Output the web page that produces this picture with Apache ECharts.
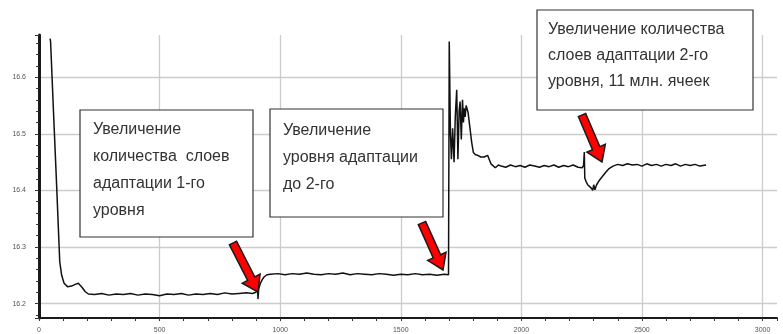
<!DOCTYPE html>
<html>
<head>
<meta charset="utf-8">
<script src="https://cdn.jsdelivr.net/npm/echarts@6/dist/echarts.min.js"></script>
<style>
  html, body { margin: 0; padding: 0; background: #fff; }
  #chart { width: 783px; height: 334px; }
</style>
</head>
<body>
<div id="chart"></div>
<script>
// Iteration number and monitored value, grouped by mesh-adaptation stage
const stage1X = [46, 48, 60, 72, 86, 94, 104, 118, 135, 150, 163, 178, 192, 205, 230, 260, 290, 320, 350, 380, 410, 440, 470, 500, 530, 560, 590, 620, 650, 680, 710, 740, 770, 800, 830, 860, 885, 900];
const stage1Y = [16.668, 16.663, 16.54, 16.42, 16.274, 16.25, 16.236, 16.230, 16.231, 16.234, 16.236, 16.229, 16.221, 16.217, 16.216, 16.218, 16.215, 16.217, 16.216, 16.218, 16.215, 16.217, 16.216, 16.214, 16.217, 16.216, 16.218, 16.215, 16.217, 16.216, 16.218, 16.216, 16.219, 16.217, 16.218, 16.219, 16.218, 16.220];

const stage2X = [904, 906, 908, 911, 918, 925, 933, 945, 960, 990, 1020, 1050, 1080, 1110, 1140, 1170, 1200, 1230, 1260, 1290, 1320, 1350, 1380, 1410, 1440, 1470, 1500, 1530, 1560, 1590, 1620, 1650, 1680, 1698];
const stage2Y = [16.222, 16.233, 16.208, 16.226, 16.236, 16.242, 16.247, 16.251, 16.252, 16.253, 16.251, 16.253, 16.252, 16.254, 16.252, 16.251, 16.253, 16.252, 16.254, 16.251, 16.253, 16.252, 16.251, 16.253, 16.252, 16.250, 16.252, 16.251, 16.253, 16.251, 16.252, 16.250, 16.252, 16.251];

const stage3X = [1701, 1703, 1706, 1710, 1715, 1721, 1726, 1732, 1737, 1742, 1746, 1751, 1756, 1760, 1763, 1767, 1771, 1779, 1787, 1794, 1801, 1810, 1819, 1832, 1846, 1860, 1874, 1892, 1905, 1916, 1935, 1955, 1975, 1995, 2015, 2035, 2055, 2075, 2095, 2115, 2135, 2155, 2175, 2195, 2215, 2235, 2252, 2258];
const stage3Y = [16.663, 16.60, 16.50, 16.455, 16.51, 16.45, 16.53, 16.578, 16.455, 16.54, 16.557, 16.49, 16.56, 16.52, 16.545, 16.53, 16.55, 16.538, 16.51, 16.485, 16.467, 16.463, 16.462, 16.459, 16.459, 16.462, 16.447, 16.44, 16.445, 16.443, 16.441, 16.445, 16.442, 16.444, 16.441, 16.445, 16.443, 16.441, 16.444, 16.442, 16.445, 16.441, 16.444, 16.442, 16.445, 16.441, 16.440, 16.444];

const stage4X = [2261, 2263, 2268, 2275, 2282, 2290, 2296, 2300, 2305, 2312, 2322, 2335, 2350, 2362, 2380, 2400, 2420, 2440, 2460, 2480, 2500, 2520, 2540, 2560, 2580, 2600, 2620, 2640, 2660, 2680, 2700, 2720, 2740, 2766];
const stage4Y = [16.468, 16.422, 16.416, 16.41, 16.412, 16.404, 16.40, 16.41, 16.401, 16.41, 16.417, 16.424, 16.432, 16.438, 16.443, 16.446, 16.444, 16.447, 16.445, 16.446, 16.443, 16.447, 16.444, 16.446, 16.443, 16.446, 16.444, 16.447, 16.443, 16.446, 16.444, 16.446, 16.443, 16.445];

// Axis ranges
const xRange = [0, 3060];
const yRange = [16.1746, 16.6746];

// Annotation texts
const note1 = ['Увеличение', 'количества  слоев', 'адаптации 1-го', 'уровня'];
const note2 = ['Увеличение', 'уровня адаптации', 'до 2-го'];
const note3 = ['Увеличение количества', 'слоев адаптации 2-го', 'уровня, 11 млн. ячеек'];

const xs = stage1X.concat(stage2X, stage3X, stage4X);
const ys = stage1Y.concat(stage2Y, stage3Y, stage4Y);
const lineData = xs.map((x, i) => [x, ys[i]]);

const chart = echarts.init(document.getElementById('chart'), null, { renderer: 'canvas' });

const FONT = '"Liberation Sans", Arial, sans-serif';

function box(x, y, w, h, lines, tx, ty, lh) {
  return [
    {
      type: 'rect', z: 100,
      shape: { x: x, y: y, width: w, height: h },
      style: { fill: '#ffffff', stroke: '#333333', lineWidth: 1.2 }
    },
    {
      type: 'text', z: 101,
      x: tx, y: ty,
      style: {
        text: lines.join('\n'),
        fill: '#333333',
        font: '16px ' + FONT,
        lineHeight: lh,
        verticalAlign: 'top'
      }
    }
  ];
}

function arrow(tail, tip) {
  const dx = tip[0] - tail[0], dy = tip[1] - tail[1];
  const len = Math.sqrt(dx * dx + dy * dy);
  const ux = dx / len, uy = dy / len;
  const nx = -uy, ny = ux;
  const sw = 4, hw = 10, hl = 15;
  const bx = tip[0] - ux * hl, by = tip[1] - uy * hl;
  const pts = [
    [tail[0] + nx * sw, tail[1] + ny * sw],
    [bx + nx * sw, by + ny * sw],
    [bx + nx * hw, by + ny * hw],
    [tip[0], tip[1]],
    [bx - nx * hw, by - ny * hw],
    [bx - nx * sw, by - ny * sw],
    [tail[0] - nx * sw, tail[1] - ny * sw]
  ];
  return {
    type: 'polygon', z: 102,
    shape: { points: pts },
    style: { fill: '#ff0000', stroke: '#1a1a1a', lineWidth: 1.5, lineJoin: 'miter' }
  };
}

const option = {
  animation: false,
  backgroundColor: '#ffffff',
  grid: { left: 39, right: 6, top: 35, bottom: 16, containLabel: false },
  xAxis: {
    type: 'value',
    min: xRange[0], max: xRange[1], interval: 500,
    axisLine: { show: true, onZero: false, lineStyle: { color: '#1a1a1a', width: 2 } },
    axisTick: { show: true, length: 3, lineStyle: { color: '#333', width: 1 } },
    minorTick: { show: true, splitNumber: 5, length: 3, lineStyle: { color: '#333', width: 1 } },
    axisLabel: { color: '#555', fontSize: 7, fontFamily: FONT, margin: 9, showMaxLabel: false, formatter: v => String(v) },
    splitLine: { show: true, showMinLine: false, showMaxLine: false, lineStyle: { color: '#cccccc', width: 1.3 } }
  },
  yAxis: {
    type: 'value',
    min: yRange[0], max: yRange[1], splitNumber: 5,
    axisLine: { show: true, onZero: false, lineStyle: { color: '#1a1a1a', width: 3 } },
    axisTick: { show: true, length: 4, lineStyle: { color: '#333', width: 1 } },
    minorTick: { show: true, splitNumber: 5, length: 3, lineStyle: { color: '#333', width: 1 } },
    axisLabel: {
      color: '#555', fontSize: 7, fontFamily: FONT, margin: 13,
      showMinLabel: false, showMaxLabel: false,
      formatter: v => v.toFixed(1)
    },
    splitLine: { show: true, showMinLine: false, showMaxLine: false, lineStyle: { color: '#cccccc', width: 1.3 } }
  },
  series: [{
    type: 'line',
    data: lineData,
    showSymbol: false,
    clip: true,
    lineStyle: { color: '#111111', width: 1.5 },
    z: 10
  }],
  graphic: [].concat(
    box(80, 110, 173, 127, note1, 93, 116.5, 27),
    box(270, 109, 173, 108, note2, 283, 117, 27),
    box(537, 10, 216, 100, note3, 548, 17, 26),
    [
      arrow([233, 243], [258, 292]),
      arrow([422, 223], [443, 270]),
      arrow([582, 115], [602, 162])
    ]
  )
};

chart.setOption(option);
</script>
</body>
</html>
